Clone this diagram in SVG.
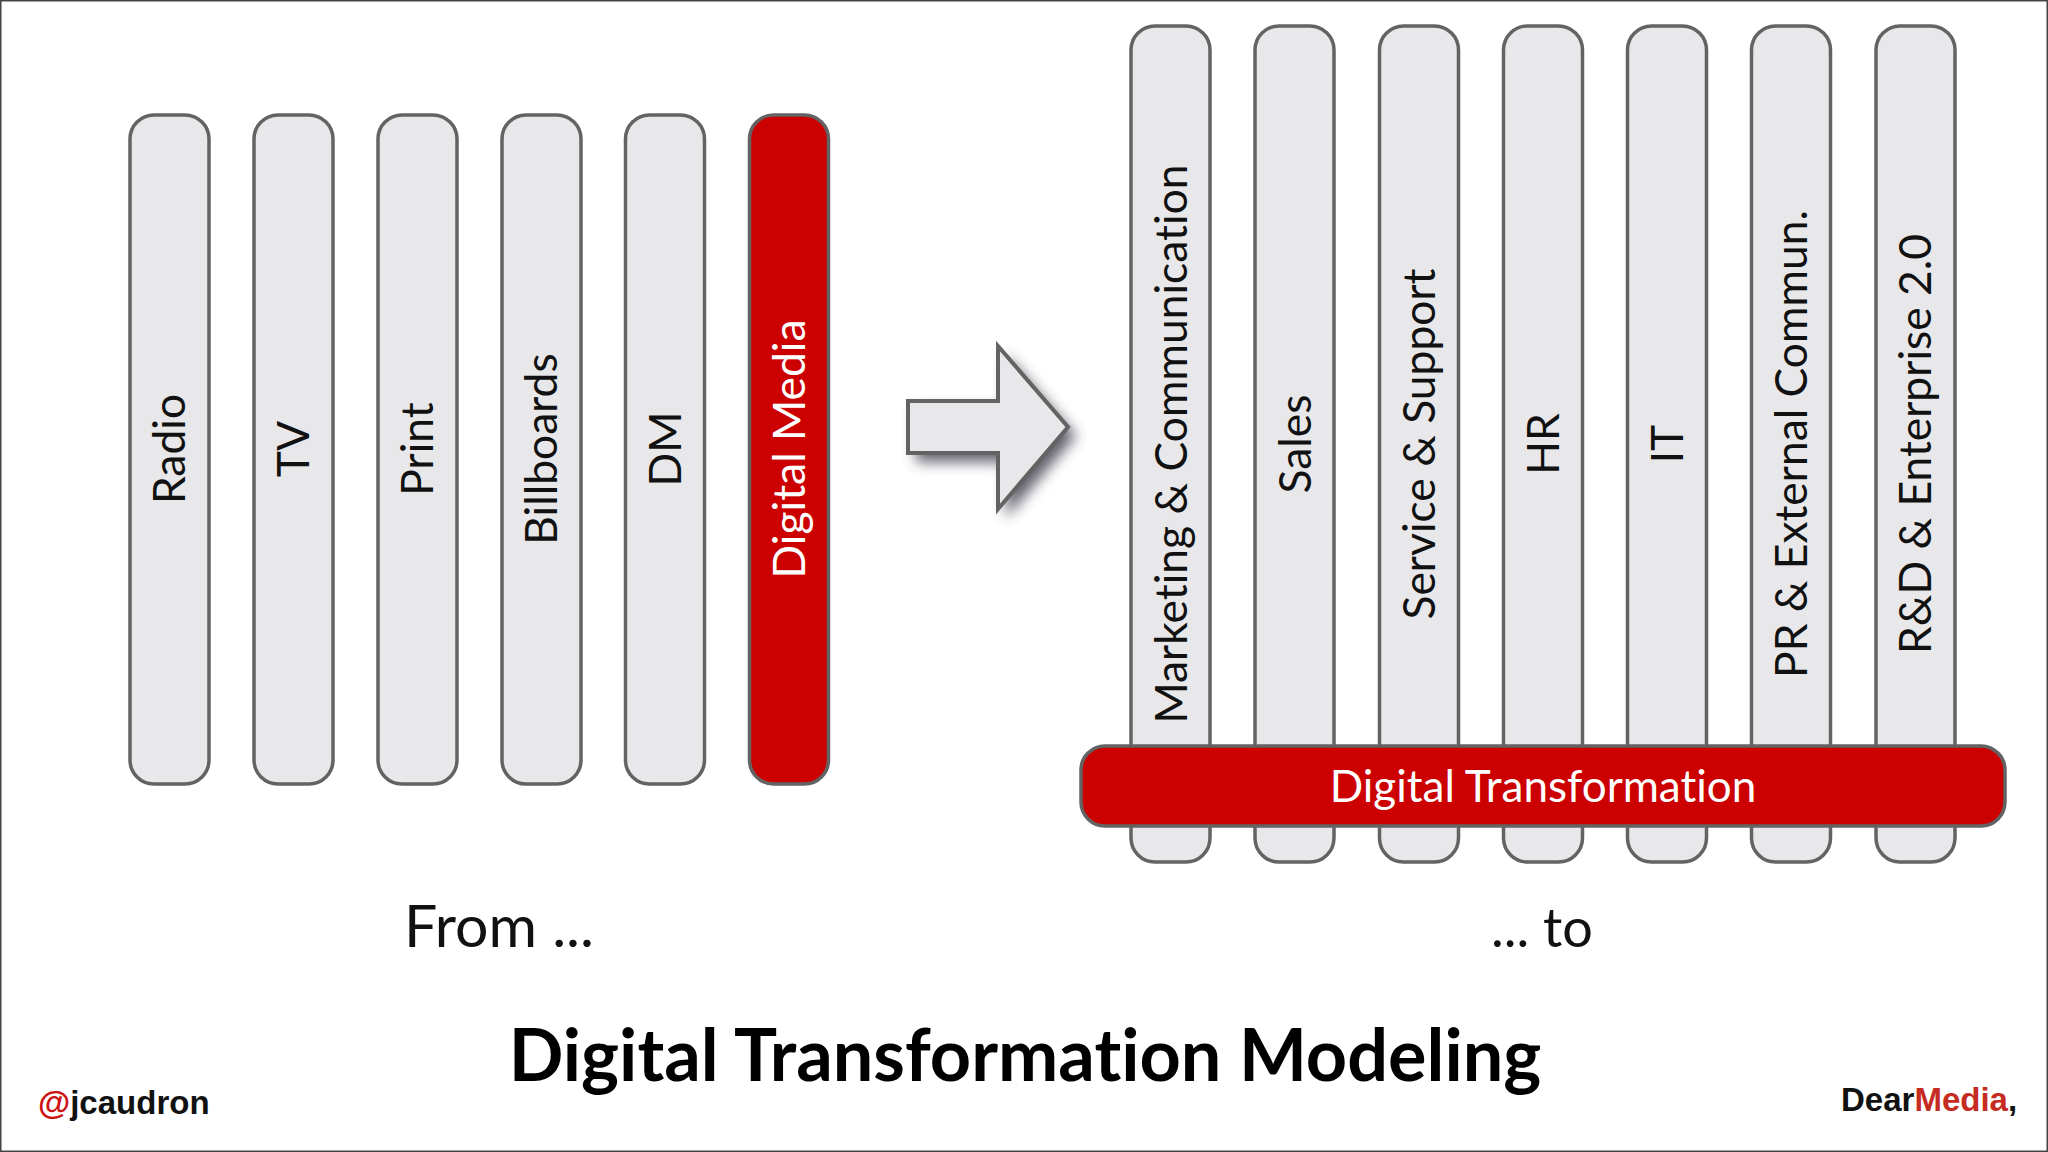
<svg xmlns="http://www.w3.org/2000/svg" width="2048" height="1152" viewBox="0 0 2048 1152">
<defs>
<filter id="sh" x="-30%" y="-30%" width="170%" height="170%"><feGaussianBlur stdDeviation="7"/></filter>
</defs>
<style>
text{font-family:Lato,"Open Sans","Liberation Sans",sans-serif;font-variant-ligatures:none}
.bar{fill:#e8e8ea;stroke:#636363;stroke-width:3.5}
.red{fill:#cc0000;stroke:#636363;stroke-width:3.5}
.v{font-size:44.4px;fill:#111;text-anchor:middle}
.b{font-family:"Liberation Sans",Arial,sans-serif;font-weight:700;font-size:33px}
</style>
<rect x="0" y="0" width="2048" height="1152" fill="#fff"/>
<rect x="0.5" y="0.5" width="2047" height="1151" fill="none" stroke="#444" stroke-width="2"/>
<g id="from-radio"><rect class="bar" x="130" y="115" width="79" height="669" rx="24"/><text class="v" transform="translate(185 449) rotate(-90)">Radio</text></g>
<g id="from-tv"><rect class="bar" x="254" y="115" width="79" height="669" rx="24"/><text class="v" transform="translate(309 449) rotate(-90)">TV</text></g>
<g id="from-print"><rect class="bar" x="378" y="115" width="79" height="669" rx="24"/><text class="v" transform="translate(433 449) rotate(-90)">Print</text></g>
<g id="from-billboards"><rect class="bar" x="502" y="115" width="79" height="669" rx="24"/><text class="v" transform="translate(557 449) rotate(-90)">Billboards</text></g>
<g id="from-dm"><rect class="bar" x="625.5" y="115" width="79" height="669" rx="24"/><text class="v" transform="translate(681 449) rotate(-90)">DM</text></g>
<g id="from-digital"><rect class="red" x="749.5" y="115" width="79" height="669" rx="24"/><text class="v" style="fill:#fff" transform="translate(805 449) rotate(-90)">Digital Media</text></g>
<g id="to-marketing"><rect class="bar" x="1131" y="26" width="79" height="836" rx="24"/><text class="v" transform="translate(1187 444) rotate(-90)">Marketing &amp; Communication</text></g>
<g id="to-sales"><rect class="bar" x="1255" y="26" width="79" height="836" rx="24"/><text class="v" transform="translate(1311 444) rotate(-90)">Sales</text></g>
<g id="to-service"><rect class="bar" x="1379.5" y="26" width="79" height="836" rx="24"/><text class="v" transform="translate(1435 444) rotate(-90)">Service &amp; Support</text></g>
<g id="to-hr"><rect class="bar" x="1503.5" y="26" width="79" height="836" rx="24"/><text class="v" transform="translate(1559 444) rotate(-90)">HR</text></g>
<g id="to-it"><rect class="bar" x="1627.5" y="26" width="79" height="836" rx="24"/><text class="v" transform="translate(1683 444) rotate(-90)">IT</text></g>
<g id="to-pr"><rect class="bar" x="1751.5" y="26" width="79" height="836" rx="24"/><text class="v" transform="translate(1807 444) rotate(-90)">PR &amp; External Commun.</text></g>
<g id="to-rd"><rect class="bar" x="1876" y="26" width="79" height="836" rx="24"/><text class="v" transform="translate(1931 444) rotate(-90)">R&amp;D &amp; Enterprise 2.0</text></g>
<g id="digital-transformation"><rect class="red" x="1081" y="746" width="924" height="80" rx="24"/><text x="1543" y="802" font-size="44" fill="#fff" text-anchor="middle">Digital Transformation</text></g>
<g id="connectors">
<path d="M908 401H998V346L1068 427L998 509V453H908Z" fill="#3a3a4a" opacity=".8" transform="translate(8 9)" filter="url(#sh)"/>
<path d="M908 401H998V346L1068 427L998 509V453H908Z" fill="#e8e8ea" stroke="#636363" stroke-width="4"/>
</g>
<text x="499" y="947" font-size="59" fill="#111" text-anchor="middle">From ...</text>
<text x="1542" y="947" font-size="54" fill="#111" text-anchor="middle">... to</text>
<text x="1025" y="1081" font-size="72" font-weight="700" fill="#000" text-anchor="middle">Digital Transformation Modeling</text>
<text class="b" x="38" y="1114"><tspan fill="#cc1111">@</tspan><tspan fill="#111">jcaudron</tspan></text>
<text class="b" x="1841" y="1111"><tspan fill="#111">Dear</tspan><tspan fill="#c62b22">Media</tspan><tspan fill="#111">,</tspan></text>
</svg>
